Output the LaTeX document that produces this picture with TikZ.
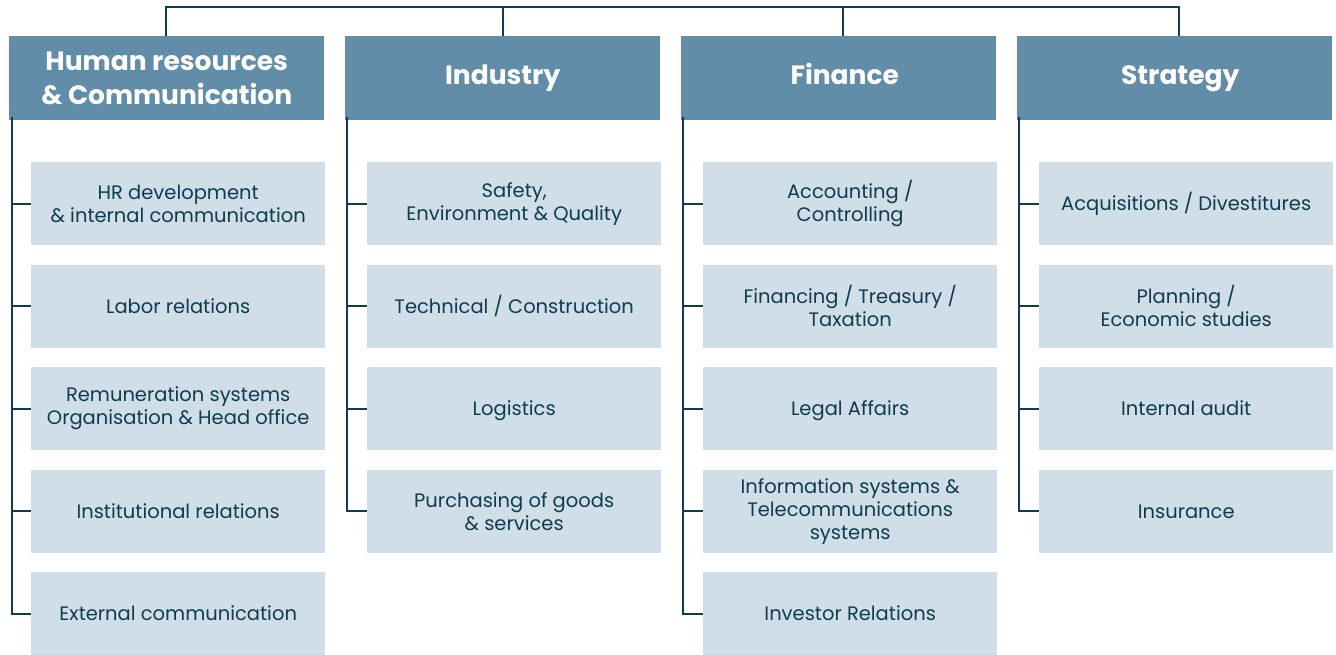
\documentclass[tikz,border=0pt]{standalone}
\usepackage{fontspec}
\setmainfont{Poppins}
\definecolor{hdrfill}{HTML}{628DA8}
\definecolor{boxfill}{HTML}{D0DEE7}
\definecolor{linec}{HTML}{0E3D52}
\definecolor{txtc}{HTML}{0F3C50}
\begin{document}
\begin{tikzpicture}[x=1pt,y=-1pt,
  hdr/.style={rectangle,fill=hdrfill,anchor=north west,minimum width=315pt,minimum height=84pt,inner sep=0pt,align=center,text=white,font=\fontsize{26.5}{34}\selectfont\bfseries},
  hdrone/.style={hdr,text height=18.5pt,text depth=6.5pt},
  sub/.style={rectangle,fill=boxfill,anchor=north west,minimum width=294pt,minimum height=83pt,inner sep=0pt,align=center,text=txtc,font=\fontsize{19.5}{23}\selectfont},
  subone/.style={sub,text height=14.5pt,text depth=0.5pt},
  conn/.style={draw=linec,line width=2pt}]
\useasboundingbox (0,0) rectangle (1336,654);
% headers
\node[hdr] (hr) at (9,36) {Human resources\\\& Communication};
\node[hdrone] (ind) at (345,36) {Industry};
\node[hdrone] (fin) at (681,36) {\hspace*{12pt}Finance};
\node[hdrone] (str) at (1017,36) {\hspace*{11pt}Strategy};
% HR children
\node[sub] (hr1) at (31,162) {HR development\\\& internal communication};
\node[subone] (hr2) at (31,264.5) {Labor relations};
\node[sub] (hr3) at (31,367) {Remuneration systems\\Organisation \& Head office};
\node[subone] (hr4) at (31,469.5) {Institutional relations};
\node[subone] (hr5) at (31,572) {External communication};
% Industry children
\node[sub] (ind1) at (367,162) {Safety,\\Environment \& Quality};
\node[subone] (ind2) at (367,264.5) {Technical / Construction};
\node[subone] (ind3) at (367,367) {Logistics};
\node[sub] (ind4) at (367,469.5) {Purchasing of goods\\\& services};
% Finance children
\node[sub] (fin1) at (703,162) {Accounting /\\Controlling};
\node[sub] (fin2) at (703,264.5) {Financing / Treasury /\\Taxation};
\node[subone] (fin3) at (703,367) {Legal Affairs};
\node[sub] (fin4) at (703,469.5) {Information systems \&\\Telecommunications\\systems};
\node[subone] (fin5) at (703,572) {Investor Relations};
% Strategy children
\node[subone] (str1) at (1039,162) {Acquisitions / Divestitures};
\node[sub] (str2) at (1039,264.5) {Planning /\\Economic studies};
\node[subone] (str3) at (1039,367) {Internal audit};
\node[subone] (str4) at (1039,469.5) {Insurance};
% top bus
\coordinate (tA) at (166,7);
\coordinate (tB) at (503,7);
\coordinate (tC) at (843,7);
\coordinate (tD) at (1179,7);
\draw[conn] (tA |- hr.north) -- (tA) -- (tD) -- (tD |- str.north);
\draw[conn] (tB) -- (tB |- ind.north);
\draw[conn] (tC) -- (tC |- fin.north);
% side spines
\coordinate (sA) at (12,117);
\coordinate (sB) at (347,117);
\coordinate (sC) at (683,117);
\coordinate (sD) at (1019,117);
\draw[conn] (sA) |- (hr5.west);
\foreach \n in {hr1,hr2,hr3,hr4} \draw[conn] (sA |- \n.west) -- (\n.west);
\draw[conn] (sB) |- (ind4.west);
\foreach \n in {ind1,ind2,ind3} \draw[conn] (sB |- \n.west) -- (\n.west);
\draw[conn] (sC) |- (fin5.west);
\foreach \n in {fin1,fin2,fin3,fin4} \draw[conn] (sC |- \n.west) -- (\n.west);
\draw[conn] (sD) |- (str4.west);
\foreach \n in {str1,str2,str3} \draw[conn] (sD |- \n.west) -- (\n.west);
\end{tikzpicture}
\end{document}
